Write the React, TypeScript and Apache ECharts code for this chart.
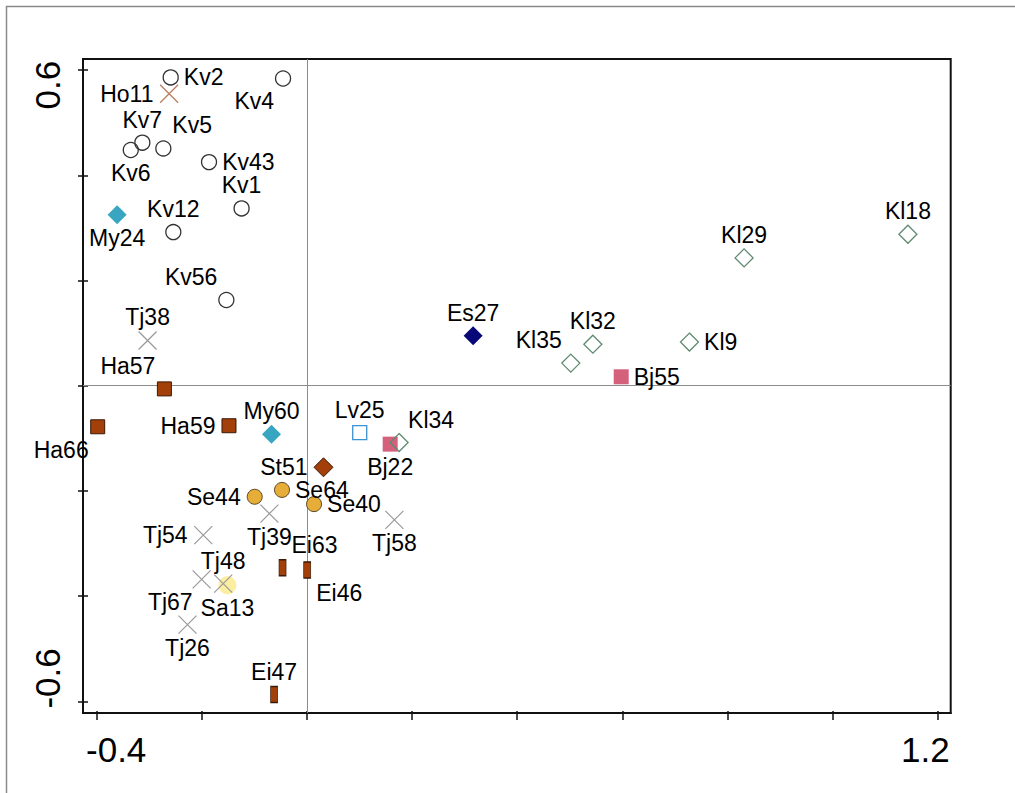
import React, { useEffect, useRef } from 'react';
import * as echarts from 'echarts';

// ---- data (name, axis 1, axis 2) ----
const kvPoints: [string, number, number][] = [
  ['Kv2', -0.26, 0.586],
  ['Kv4', -0.046, 0.584],
  ['Kv7', -0.314, 0.462],
  ['Kv5', -0.274, 0.451],
  ['Kv6', -0.336, 0.448],
  ['Kv43', -0.187, 0.425],
  ['Kv1', -0.125, 0.337],
  ['Kv12', -0.255, 0.292],
  ['Kv56', -0.154, 0.163],
];
const hoPoints: [string, number, number][] = [['Ho11', -0.263, 0.555]];
const tjPoints: [string, number, number][] = [
  ['Tj38', -0.304, 0.086],
  ['Tj39', -0.072, -0.243],
  ['Tj54', -0.198, -0.284],
  ['Tj58', 0.166, -0.255],
  ['Tj48', -0.16, -0.376],
  ['Tj67', -0.201, -0.368],
  ['Tj26', -0.228, -0.454],
];
const myPoints: [string, number, number][] = [
  ['My24', -0.362, 0.325],
  ['My60', -0.068, -0.092],
];
const haPoints: [string, number, number][] = [
  ['Ha57', -0.272, -0.006],
  ['Ha66', -0.399, -0.078],
  ['Ha59', -0.149, -0.076],
];
const esPoints: [string, number, number][] = [['Es27', 0.316, 0.095]];
const klPoints: [string, number, number][] = [
  ['Kl35', 0.502, 0.043],
  ['Kl32', 0.544, 0.079],
  ['Kl9', 0.728, 0.083],
  ['Kl29', 0.832, 0.243],
  ['Kl18', 1.144, 0.288],
  ['Kl34', 0.175, -0.108],
];
const bjPoints: [string, number, number][] = [
  ['Bj55', 0.598, 0.017],
  ['Bj22', 0.158, -0.111],
];
const lvPoints: [string, number, number][] = [['Lv25', 0.1, -0.089]];
const stPoints: [string, number, number][] = [['St51', 0.031, -0.155]];
const sePoints: [string, number, number][] = [
  ['Se44', -0.1, -0.211],
  ['Se64', -0.048, -0.198],
  ['Se40', 0.013, -0.225],
];
const saPoints: [string, number, number][] = [['Sa13', -0.152, -0.379]];
const eiPoints: [string, number, number][] = [
  ['Ei63', -0.047, -0.346],
  ['Ei46', 0.0, -0.35],
  ['Ei47', -0.063, -0.587],
];

// axis ticks / labels
const xTicks = [-0.4, -0.2, 0, 0.2, 0.4, 0.6, 0.8, 1.0, 1.2];
const yTicks = [-0.6, -0.4, -0.2, 0, 0.2, 0.4, 0.6];
const xTickLabels = [-0.4, 1.2];
const yTickLabels = [-0.6, 0.6];
const X_MIN = -0.427;
const X_MAX = 1.2255;
const Y_MIN = -0.622;
const Y_MAX = 0.621;

// label placement per point
const labelSide: Record<string, string> = {
  Kv2: 'r', Kv4: 'bl', Kv7: 't', Kv5: 'tr', Kv6: 'b', Kv43: 'r', Kv1: 't', Kv12: 't', Kv56: 'tl',
  Ho11: 'l',
  Tj38: 't', Tj39: 'b', Tj54: 'l', Tj58: 'b', Tj48: 't', Tj67: 'bl', Tj26: 'b',
  My24: 'b', My60: 't',
  Ha57: 'tl', Ha66: 'bl', Ha59: 'l',
  Es27: 't',
  Kl35: 'tl', Kl32: 't', Kl9: 'r', Kl29: 't', Kl18: 't', Kl34: 'tr',
  Bj55: 'r', Bj22: 'b',
  Lv25: 't', St51: 'l',
  Se44: 'l', Se64: 'r', Se40: 'r',
  Sa13: 'b',
  Ei63: 'tr', Ei46: 'br', Ei47: 't',
};

const FONT = '"Liberation Sans", Arial, Helvetica, sans-serif';
const BROWN = '#a33f08';
const DARK = '#3a1a08';
const CROSS = 'path://M0,0L20,20M20,0L0,20';

function pointLabel(side: string) {
  const base: any = { show: true, formatter: '{b}', color: '#000', opacity: 1, fontSize: 23, fontFamily: FONT };
  switch (side) {
    case 't': return { ...base, position: 'inside', offset: [0, -23] };
    case 'b': return { ...base, position: 'inside', offset: [0, 23] };
    case 'l': return { ...base, position: 'left', distance: 6 };
    case 'r': return { ...base, position: 'right', distance: 5 };
    case 'tl': return { ...base, position: 'inside', align: 'right', offset: [-9, -23] };
    case 'tr': return { ...base, position: 'inside', align: 'left', offset: [9, -23] };
    case 'bl': return { ...base, position: 'inside', align: 'right', offset: [-9, 23] };
    case 'br': return { ...base, position: 'inside', align: 'left', offset: [9, 23] };
    default: return base;
  }
}

function toData(points: [string, number, number][]) {
  return points.map(([name, x, y]) => ({ name, value: [x, y], label: pointLabel(labelSide[name]) }));
}

function scatter(name: string, points: [string, number, number][], symbol: string, size: any, itemStyle: any, extra: any = {}) {
  return {
    type: 'scatter',
    name,
    xAxisIndex: 0,
    yAxisIndex: 0,
    symbol,
    symbolSize: size,
    itemStyle: { opacity: 1, ...itemStyle },
    emphasis: { disabled: true },
    data: toData(points),
    ...extra,
  };
}

export default function App() {
  const ref = useRef<HTMLDivElement>(null);
  useEffect(() => {
    if (!ref.current) return;
    const chart = echarts.init(ref.current, undefined, { renderer: 'svg' });
    const axisCommon = (min: number, max: number) => ({
      type: 'value',
      min,
      max,
      splitLine: { show: false },
    });
    const option: any = {
      animation: false,
      backgroundColor: '#fff',
      textStyle: { fontFamily: FONT },
      grid: {
        left: 83, top: 59, right: 64.3, bottom: 80,
        show: true, borderColor: '#111', borderWidth: 2, backgroundColor: 'transparent',
      },
      graphic: [
        {
          type: 'rect',
          shape: { x: 6.5, y: 6.5, width: 1100, height: 900 },
          style: { fill: 'none', stroke: '#8a8a8a', lineWidth: 1.5 },
          silent: true,
          z: -10,
        },
      ],
      xAxis: [
        {
          ...axisCommon(X_MIN, X_MAX),
          position: 'bottom',
          axisLine: { show: true, onZero: false, lineStyle: { color: '#111', width: 2 } },
          axisTick: { show: true, inside: false, length: 7, customValues: xTicks, lineStyle: { color: '#111', width: 1.5 } },
          axisLabel: {
            show: true,
            customValues: xTickLabels,
            margin: 19,
            color: '#000',
            fontSize: 35,
            fontFamily: FONT,
            formatter: (v: number) => (v < 0 ? '{a|' + v.toFixed(1) + '}' : '{b|' + v.toFixed(1) + '}'),
            rich: {
              a: { fontSize: 35, fontFamily: FONT, color: '#000', padding: [0, 0, 0, 38] },
              b: { fontSize: 35, fontFamily: FONT, color: '#000', padding: [0, 24, 0, 0] },
            },
          },
        },
        {
          ...axisCommon(X_MIN, X_MAX),
          position: 'bottom',
          axisLine: { show: false, onZero: false },
          axisTick: { show: true, inside: true, length: 2, customValues: xTicks, lineStyle: { color: '#111', width: 1.5 } },
          axisLabel: { show: false },
        },
      ],
      yAxis: [
        {
          ...axisCommon(Y_MIN, Y_MAX),
          position: 'left',
          axisLine: { show: true, onZero: false, lineStyle: { color: '#111', width: 2 } },
          axisTick: { show: true, inside: false, length: 5, customValues: yTicks, lineStyle: { color: '#111', width: 1.5 } },
          axisLabel: {
            show: true,
            customValues: yTickLabels,
            rotate: 90,
            margin: 18,
            color: '#000',
            fontSize: 35,
            fontFamily: FONT,
            formatter: (v: number) => (v > 0 ? '{a|' + v.toFixed(1) + '}' : '{b|' + v.toFixed(1) + '}'),
            rich: {
              a: { fontSize: 35, fontFamily: FONT, color: '#000', padding: [0, 30, 0, 0] },
              b: { fontSize: 35, fontFamily: FONT, color: '#000', padding: [0, 0, 0, 46] },
            },
          },
        },
        {
          ...axisCommon(Y_MIN, Y_MAX),
          position: 'left',
          axisLine: { show: false, onZero: false },
          axisTick: { show: true, inside: true, length: 5, customValues: yTicks, lineStyle: { color: '#111', width: 1.5 } },
          axisLabel: { show: false },
        },
      ],
      series: [
        scatter('Kv', kvPoints, 'circle', 15, { color: 'rgba(255,255,255,0)', borderColor: '#333', borderWidth: 1.3 }, {
          markLine: {
            silent: true,
            z: 1,
            symbol: 'none',
            label: { show: false },
            emphasis: { disabled: true },
            lineStyle: { color: '#8c8c8c', width: 1, type: 'solid' },
            data: [{ xAxis: 0 }, { yAxis: 0 }],
          },
        }),
        scatter('Ho', hoPoints, CROSS, 18, { color: 'rgba(0,0,0,0)', borderColor: '#b9805f', borderWidth: 1.3 }),
        scatter('My', myPoints, 'diamond', 19, { color: '#38a6c0' }),
        scatter('Ha', haPoints, 'rect', 14, { color: BROWN, borderColor: DARK, borderWidth: 1 }),
        scatter('Es', esPoints, 'diamond', 19, { color: '#080878' }),
        scatter('Bj', bjPoints, 'rect', 15, { color: '#d4607c' }),
        scatter('Kl', klPoints, 'diamond', 18, { color: 'rgba(255,255,255,0)', borderColor: '#5f8a70', borderWidth: 1.3 }),
        scatter('Lv', lvPoints, 'rect', 14, { color: 'rgba(255,255,255,0)', borderColor: '#3b92d1', borderWidth: 1.3 }),
        scatter('St', stPoints, 'diamond', 19, { color: BROWN, borderColor: DARK, borderWidth: 1 }),
        scatter('Se', sePoints, 'circle', 15, { color: '#e6ae38', borderColor: '#5a4a2a', borderWidth: 1 }),
        scatter('Sa', saPoints, 'circle', 18, { color: '#fbeea0' }),
        scatter('Tj', tjPoints, CROSS, 18, { color: 'rgba(0,0,0,0)', borderColor: '#999', borderWidth: 1.2 }),
        scatter('Ei', eiPoints, 'rect', [7, 16], { color: BROWN, borderColor: DARK, borderWidth: 1 }),
      ],
    };
    chart.setOption(option);
    return () => chart.dispose();
  }, []);
  return (
    <div
      ref={ref}
      style={{ position: 'fixed', left: 0, top: 0, width: 1015, height: 793, background: '#fff' }}
    />
  );
}
